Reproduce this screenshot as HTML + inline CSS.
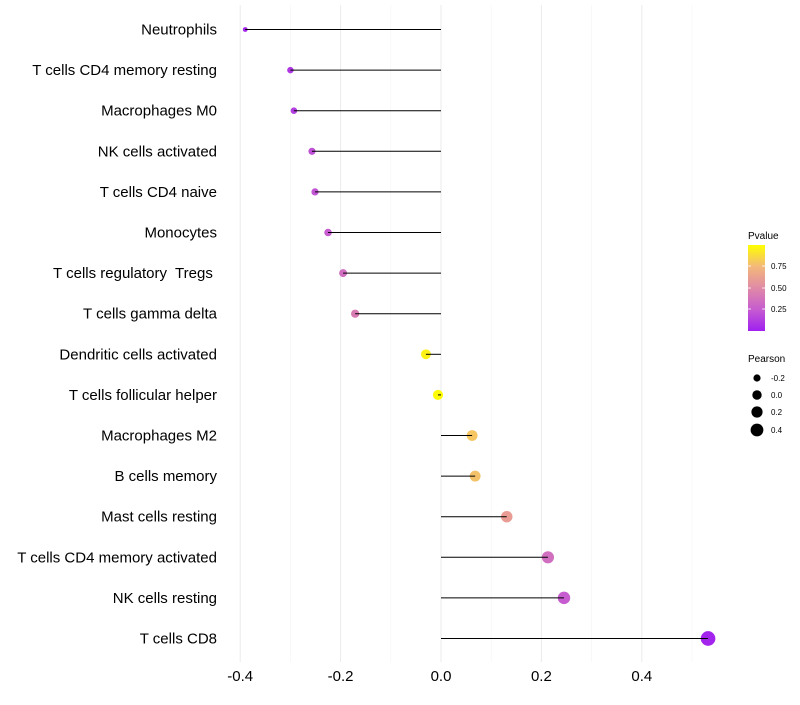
<!DOCTYPE html>
<html><head><meta charset="utf-8"><style>
body{margin:0;background:#fff;font-family:"Liberation Sans",sans-serif;}
</style></head><body>
<svg id="chart" width="800" height="700" xmlns="http://www.w3.org/2000/svg" font-family="Liberation Sans, sans-serif">
<defs><linearGradient id="pg" x1="0" y1="1" x2="0" y2="0">
<stop offset="0" stop-color="#A020F0"/><stop offset="0.25" stop-color="#C65CD0"/><stop offset="0.5" stop-color="#E08AA6"/><stop offset="0.75" stop-color="#F3B87A"/><stop offset="1" stop-color="#FFFF00"/></linearGradient></defs>
<g id="grid"></g><g id="marks"></g><g id="labels"></g><g id="xaxis"></g>
<g>
<text x="748" y="239" font-size="10">Pvalue</text>
<rect x="748" y="245" width="17" height="86" fill="url(#pg)"/>
<g stroke="#fff" stroke-width="0.8"><line x1="748" y1="266" x2="751" y2="266"/><line x1="762" y1="266" x2="765" y2="266"/><line x1="748" y1="288" x2="751" y2="288"/><line x1="762" y1="288" x2="765" y2="288"/><line x1="748" y1="309" x2="751" y2="309"/><line x1="762" y1="309" x2="765" y2="309"/></g>
<text x="771" y="269" font-size="8">0.75</text><text x="771" y="291" font-size="8">0.50</text><text x="771" y="312" font-size="8">0.25</text>
</g>
<g>
<text x="748" y="362" font-size="10">Pearson</text>
<circle cx="757" cy="378" r="3.6"/><text x="771" y="381" font-size="8">-0.2</text>
<circle cx="757" cy="395" r="4.7"/><text x="771" y="398" font-size="8">0.0</text>
<circle cx="757" cy="412" r="5.6"/><text x="771" y="415" font-size="8">0.2</text>
<circle cx="757" cy="430" r="6.4"/><text x="771" y="433" font-size="8">0.4</text>
</g>
</svg>
<script>
const cells=["Neutrophils","T cells CD4 memory resting","Macrophages M0","NK cells activated","T cells CD4 naive","Monocytes","T cells regulatory  Tregs ","T cells gamma delta","Dendritic cells activated","T cells follicular helper","Macrophages M2","B cells memory","Mast cells resting","T cells CD4 memory activated","NK cells resting","T cells CD8"];
const pearson=[-0.39,-0.30,-0.293,-0.257,-0.251,-0.225,-0.195,-0.171,-0.03,-0.006,0.062,0.068,0.131,0.213,0.245,0.532];
const pvals=[0.03,0.1,0.12,0.2,0.22,0.25,0.35,0.42,0.95,0.99,0.8,0.78,0.6,0.35,0.25,0.02];
const xticks=[-0.4,-0.2,0.0,0.2,0.4];
const NS="http://www.w3.org/2000/svg";
const x=v=>441+v*502;
const y=i=>29.5+i*40.6;
const stops=[[0,[160,32,240]],[0.25,[198,92,208]],[0.5,[224,138,166]],[0.75,[243,184,122]],[1,[255,255,0]]];
function col(p){for(let k=1;k<stops.length;k++){if(p<=stops[k][0]){const a=stops[k-1],b=stops[k],t=(p-a[0])/(b[0]-a[0]);return "rgb("+a[1].map((c,j)=>Math.round(c+(b[1][j]-c)*t)).join(",")+")";}}return "rgb(255,255,0)";}
const rad=p=>Math.sqrt(Math.max(2,26+52*p));
function mk(t,a,parent){const e=document.createElementNS(NS,t);for(const k in a)e.setAttribute(k,a[k]);document.getElementById(parent).appendChild(e);return e;}
for(let v=-0.4;v<=0.55;v+=0.1){const major=Math.abs(Math.round(v*10)%2)===0;
const g=mk("line",{x1:x(v),x2:x(v),y1:5,y2:662,stroke:major?"#ebebeb":"#f4f4f4","stroke-width":major?1:0.6},"grid");

}
xticks.forEach(t=>{const e=mk("text",{x:x(t),y:681,"font-size":15,"text-anchor":"middle"},"xaxis");e.textContent=t.toFixed(1);

});
cells.forEach((c,i)=>{
const l=mk("text",{x:217,y:y(i)+5,"font-size":15,"text-anchor":"end",style:"white-space:pre"},"labels");l.textContent=c;


const d=mk("circle",{cx:x(pearson[i]),cy:y(i),r:rad(pearson[i]),fill:col(pvals[i])},"marks");


const s=mk("line",{x1:x(0),x2:x(pearson[i]),y1:y(i),y2:y(i),stroke:"#000","stroke-width":1},"marks");


});
</script>
</body></html>
